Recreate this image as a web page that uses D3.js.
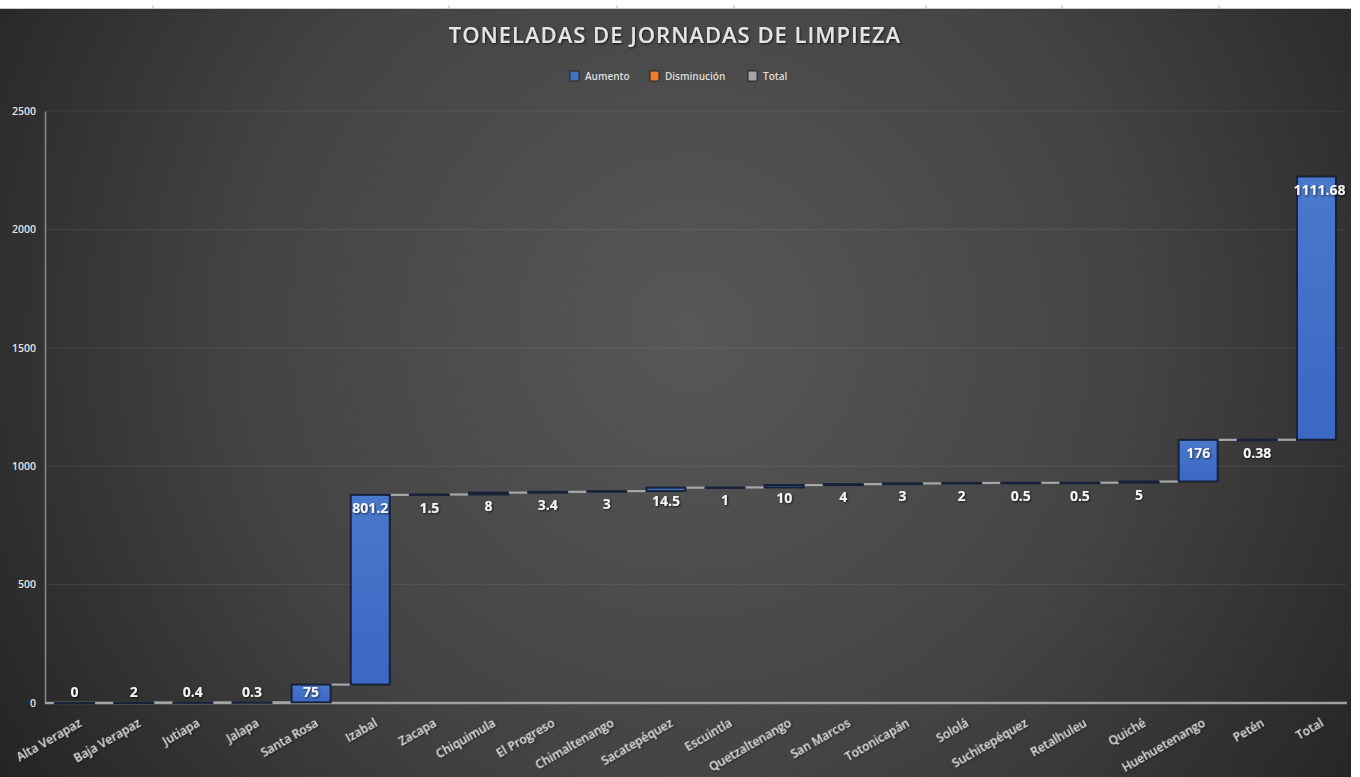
<!DOCTYPE html>
<html><head><meta charset="utf-8">
<script src="https://cdn.jsdelivr.net/npm/d3@7"></script>
<style>html,body{margin:0;padding:0;background:#fff;}svg{display:block;}</style>
</head><body>
<svg id="chart" width="1360" height="777"></svg>
<script>
const categories = ["Alta Verapaz","Baja Verapaz","Jutiapa","Jalapa","Santa Rosa","Izabal","Zacapa","Chiquimula","El Progreso","Chimaltenango","Sacatepéquez","Escuintla","Quetzaltenango","San Marcos","Totonicapán","Sololá","Suchitepéquez","Retalhuleu","Quiché","Huehuetenango","Petén","Total"];
const values = [0,2,0.4,0.3,75,801.2,1.5,8,3.4,3,14.5,1,10,4,3,2,0.5,0.5,5,176,0.38,1111.68];
const valueLabels = ["0","2","0.4","0.3","75","801.2","1.5","8","3.4","3","14.5","1","10","4","3","2","0.5","0.5","5","176","0.38","1111.68"];
const yTicks = [0,500,1000,1500,2000,2500];
const legendItems = ["Aumento","Disminución","Total"];
const legendColors = ["#4472c4","#ed7d31","#a5a5a5"];
const title = "TONELADAS DE JORNADAS DE LIMPIEZA";

// cumulative
let run = 0;
const data = categories.map((c,i)=>{ const start = run; run += values[i]; return {cat:c, start, end:run, v:values[i], label:valueLabels[i]}; });

const svg = d3.select("#chart");
const W = 1360, H = 777;
const defs = svg.append("defs");
const rg = defs.append("radialGradient").attr("id","bg").attr("gradientUnits","userSpaceOnUse")
  .attr("cx",690).attr("cy",330).attr("r",820);
rg.append("stop").attr("offset","0%").attr("stop-color","#575757");
rg.append("stop").attr("offset","55%").attr("stop-color","#434343");
rg.append("stop").attr("offset","100%").attr("stop-color","#242424");
const bg2 = defs.append("linearGradient").attr("id","barg").attr("x1",0).attr("x2",0).attr("y1",0).attr("y2",1);
bg2.append("stop").attr("offset","0%").attr("stop-color","#4a78cc");
bg2.append("stop").attr("offset","100%").attr("stop-color","#3a68c2");
const sh = defs.append("filter").attr("id","sh").attr("x","-10%").attr("y","-30%").attr("width","120%").attr("height","160%");
sh.append("feDropShadow").attr("dx",1).attr("dy",1).attr("stdDeviation",0.8).attr("flood-color","#000").attr("flood-opacity",0.7);

svg.append("rect").attr("width",W).attr("height",H).attr("fill","#ffffff");
svg.append("rect").attr("x",0).attr("y",9).attr("width",1351).attr("height",H-9).attr("fill","url(#bg)");
svg.append("line").attr("x1",0).attr("x2",1351).attr("y1",8.5).attr("y2",8.5).attr("stroke","#c8c8c8");
[153,449,617,734,926,1062,1219].forEach(x=>{
  svg.append("line").attr("x1",x).attr("x2",x).attr("y1",5).attr("y2",9).attr("stroke","#bbb");
});

const x = d3.scaleBand().domain(categories).range([45,1346]).paddingInner(0.34).paddingOuter(0.17);
const y = d3.scaleLinear().domain([0,2500]).range([703,111]);

// gridlines
svg.append("g").selectAll("line").data(yTicks.filter(t=>t>0)).join("line")
  .attr("x1",45).attr("x2",1346).attr("y1",d=>y(d)).attr("y2",d=>y(d))
  .attr("stroke","#ffffff").attr("stroke-opacity",0.09).attr("stroke-width",1);

// y axis
const yAxis = svg.append("g").attr("transform","translate(45,0)")
  .call(d3.axisLeft(y).tickValues(yTicks).tickFormat(d3.format("d")).tickSize(0).tickPadding(9));
yAxis.select(".domain").attr("stroke","#8a8a8a").attr("stroke-width",1.5);
yAxis.selectAll("text").attr("fill","#e4e4e4").style("font-family","'Open Sans',sans-serif").style("font-size","10.5px").style("font-weight","600");

// x axis
const xAxis = svg.append("g").attr("transform","translate(0,703)")
  .call(d3.axisBottom(x).tickSize(0).tickSizeOuter(0).tickFormat(""));
xAxis.select(".domain").attr("stroke","#a0a0a0").attr("stroke-width",2.5).attr("d","M45,0H1347");

svg.append("g").selectAll("text").data(categories).join("text")
  .attr("transform",d=>`translate(${x(d)+x.bandwidth()/2+6},722) rotate(-30)`)
  .attr("text-anchor","end").attr("dy","0.35em")
  .attr("fill","#dcdcdc").style("font-family","'Open Sans',sans-serif").style("font-size","12px").style("font-weight","600")
  .attr("filter","url(#sh)")
  .text(d=>d);

// connectors
svg.append("g").selectAll("line").data(data.slice(0,-1)).join("line")
  .attr("x1",d=>x(d.cat)+x.bandwidth()).attr("x2",(d,i)=>x(categories[i+1]))
  .attr("y1",d=>y(d.end)).attr("y2",d=>y(d.end))
  .attr("stroke","#a6a6a6").attr("stroke-width",2.2);

// bars
svg.append("g").selectAll("rect").data(data).join("rect")
  .attr("x",d=>x(d.cat)).attr("width",x.bandwidth())
  .attr("y",d=>y(d.end)).attr("height",d=>Math.max(0.5,y(d.start)-y(d.end)))
  .attr("fill","url(#barg)").attr("stroke","#172238").attr("stroke-width",2);

// labels
svg.append("g").selectAll("text").data(data).join("text")
  .attr("x",d=>x(d.cat)+x.bandwidth()/2+ (d.cat==="Total"?3:0))
  .attr("y",d=>Math.min(y(d.end)+13,692))
  .attr("dy","0.36em").attr("text-anchor","middle")
  .attr("fill","#f4f4f4").style("font-family","'Open Sans',sans-serif").style("font-size","14px").style("font-weight","700")
  .attr("filter","url(#sh)")
  .text(d=>d.label);

// title
svg.append("text").attr("x",675).attr("y",35).attr("dy","0.35em").attr("text-anchor","middle")
  .attr("fill","#e4e4e4").style("font-family","'Open Sans',sans-serif").style("font-size","22px").style("font-weight","600")
  .style("letter-spacing","1px")
  .attr("filter","url(#sh)").text(title);

// legend
const legendX = [570,650,748];
const lg = svg.append("g");
legendItems.forEach((t,i)=>{
  lg.append("rect").attr("x",legendX[i]).attr("y",71).attr("width",9).attr("height",10)
    .attr("fill",legendColors[i]).attr("stroke","#222").attr("stroke-width",1);
  lg.append("text").attr("x",legendX[i]+15).attr("y",76.5).attr("dy","0.35em")
    .attr("fill","#dddddd").style("font-family","'Open Sans',sans-serif").style("font-size","10px").style("font-weight","600")
    .text(t);
});
</script>
</body></html>
